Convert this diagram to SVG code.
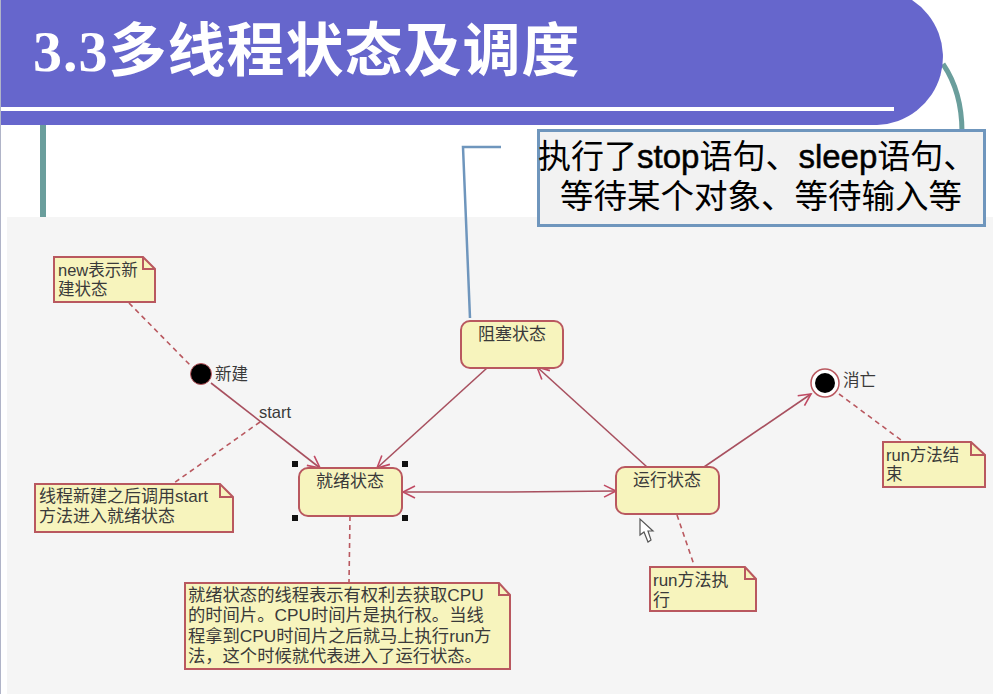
<svg xmlns="http://www.w3.org/2000/svg" width="993" height="694" viewBox="0 0 993 694">
<defs>
<style>
.uml{font-family:"Liberation Sans","Noto Sans CJK SC",sans-serif;font-size:16.5px;fill:#3a3a3a}
.lg{font-size:17px}
.xl{font-size:17.3px}
.mid{text-anchor:middle}
.box{fill:#f7f4bd;stroke:#b9585f;stroke-width:2}
.fold{fill:none;stroke:#b9585f;stroke-width:2}
.conn{fill:none;stroke:#a8505f;stroke-width:1.6}
.dash{fill:none;stroke:#b9585f;stroke-width:1.6;stroke-dasharray:5 4}
.handle{fill:#111}
.heavy{stroke:#000;stroke-width:.5}
</style>
<marker id="open" markerUnits="userSpaceOnUse" markerWidth="16" markerHeight="16" refX="13" refY="7" orient="auto-start-reverse" viewBox="0 0 16 14">
<path d="M1 1L13 7L1 13" fill="none" stroke="#c04a63" stroke-width="1.6"/>
</marker>
</defs>
<rect width="993" height="694" fill="#fff"/>
<g id="background">
<rect x="0" y="0" width="1" height="694" fill="#b0b4c8"/>
<path d="M943 64Q962 92 962 132" fill="none" stroke="#6a9e9c" stroke-width="5"/>
<rect x="40" y="125" width="6" height="92" fill="#6a9e9c"/>
<rect x="7" y="217" width="986" height="477" fill="#f5f5f5"/>
</g>
<g id="banner">
<path d="M1 0H912A68 68 0 0 1 877 125H1Z" fill="#6666cc"/>
<rect x="1" y="107" width="893" height="4" fill="#fff"/>
<text x="33" y="71" font-size="58" font-weight="700" letter-spacing="1" fill="#fff" font-family="'Liberation Serif','Noto Sans CJK SC',serif">3.3多线程状态及调度</text>
</g>
<g id="connectors">
<path class="dash" d="M129 303L190 365"/>
<path class="dash" d="M260 422L174 483"/>
<path class="dash" d="M350 516L349 582"/>
<path class="dash" d="M677 515L694 565"/>
<path class="dash" d="M839 394L901 440"/>
<path class="conn" d="M211 383L320 468" marker-end="url(#open)"/>
<path class="conn" d="M487 368L377 468" marker-end="url(#open)"/>
<path class="conn" d="M647 467L537 367" marker-end="url(#open)"/>
<path class="conn" d="M704 467L811 394" marker-end="url(#open)"/>
<path class="conn" d="M403 492L510 492L616 491" marker-start="url(#open)" marker-end="url(#open)"/>
<path d="M501 147H463L470 318" fill="none" stroke="#6f96bd" stroke-width="2.5"/>
</g>
<g id="node-start">
<circle cx="201" cy="374" r="10.5" fill="#000" stroke="#b9585f"/>
<text class="uml" x="215" y="380">新建</text>
</g>
<text id="label-start" class="uml" x="259" y="418">start</text>
<g id="node-ready">
<rect class="box" x="299" y="468" width="103" height="48" rx="9"/>
<text class="uml lg mid" x="350" y="487">就绪状态</text>
<rect class="handle" x="292" y="461" width="6" height="6"/>
<rect class="handle" x="402" y="461" width="6" height="6"/>
<rect class="handle" x="292" y="515" width="6" height="6"/>
<rect class="handle" x="402" y="515" width="6" height="6"/>
</g>
<g id="node-blocked">
<rect class="box" x="461" y="321" width="102" height="47" rx="9"/>
<text class="uml lg mid" x="512" y="340">阻塞状态</text>
</g>
<g id="node-running">
<rect class="box" x="616" y="467" width="103" height="47" rx="9"/>
<text class="uml lg mid" x="667" y="486">运行状态</text>
</g>
<g id="node-end">
<circle cx="825" cy="383" r="14" fill="#fff" stroke="#b9585f" stroke-width="1.5"/>
<circle cx="825" cy="383" r="10" fill="#000"/>
<text class="uml" x="843" y="386">消亡</text>
</g>
<g id="note-new">
<path class="box" d="M54 257H143L155 269V302H54Z"/>
<path class="fold" d="M143 257V269H155"/>
<text class="uml" x="58" y="276">new表示新</text>
<text class="uml" x="58" y="295">建状态</text>
</g>
<g id="note-start">
<path class="box" d="M35 484H220L233 497V532H35Z"/>
<path class="fold" d="M220 484V497H233"/>
<text class="uml lg" x="39" y="502">线程新建之后调用start</text>
<text class="uml lg" x="39" y="522">方法进入就绪状态</text>
</g>
<g id="note-ready">
<path class="box" d="M185 583H499L510 595V669H185Z"/>
<path class="fold" d="M499 583V595H510"/>
<text class="uml xl" x="188" y="601">就绪状态的线程表示有权利去获取CPU</text>
<text class="uml xl" x="188" y="621">的时间片。CPU时间片是执行权。当线</text>
<text class="uml xl" x="188" y="642">程拿到CPU时间片之后就马上执行run方</text>
<text class="uml xl" x="188" y="662">法，这个时候就代表进入了运行状态。</text>
</g>
<g id="note-running">
<path class="box" d="M650 567H745L756 579V611H650Z"/>
<path class="fold" d="M745 567V579H756"/>
<text class="uml lg" x="653" y="586">run方法执</text>
<text class="uml lg" x="653" y="606">行</text>
</g>
<g id="note-end">
<path class="box" d="M883 442H971L985 455V487H883Z"/>
<path class="fold" d="M971 442V455H985"/>
<text class="uml" x="886" y="461">run方法结</text>
<text class="uml" x="886" y="480">束</text>
</g>
<g id="callout">
<rect x="538.5" y="130.5" width="446" height="95" fill="#f2f2f2" stroke="#6f96bd" stroke-width="3"/>
<text x="538" y="168" font-size="33" fill="#000" font-family="'Liberation Sans','Noto Sans CJK SC',sans-serif">执行了<tspan class="heavy">stop</tspan>语句、<tspan class="heavy">sleep</tspan>语句、</text>
<text x="560" y="208" font-size="33.5" fill="#000" font-family="'Liberation Sans','Noto Sans CJK SC',sans-serif">等待某个对象、等待输入等</text>
</g>
<path id="cursor" d="M640 519L640 535L644 532L648 542L651 540L648 531L653 531Z" fill="#fff" stroke="#555" stroke-width="1.2"/>
</svg>
